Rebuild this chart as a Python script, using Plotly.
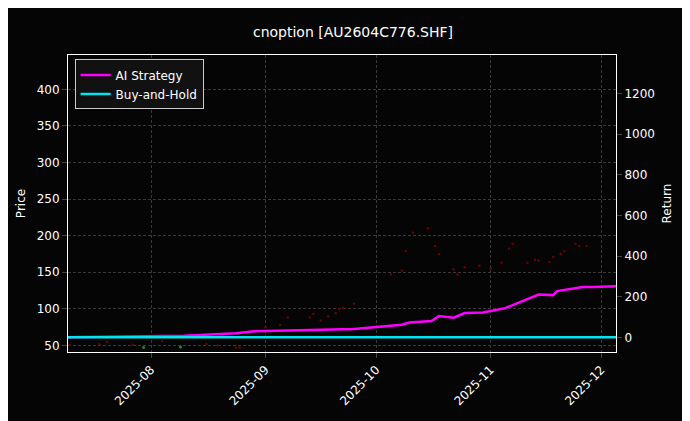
import plotly.graph_objects as go

# strategy equity (return, %)
ret_dates = ["2025-07-09", "2025-08-10", "2025-08-24", "2025-08-29", "2025-09-25", "2025-10-08",
             "2025-10-10", "2025-10-16", "2025-10-18", "2025-10-22", "2025-10-25", "2025-10-30",
             "2025-11-05", "2025-11-14", "2025-11-18", "2025-11-19", "2025-11-26", "2025-11-29",
             "2025-12-05"]
ai_ret = [0, 8, 20, 30, 41, 62, 73, 81, 105, 97, 120, 123, 144, 211, 208, 228, 248, 248, 252]
bh_ret = [0] * len(ret_dates)

# option price dots
px_dates = ["2025-07-10", "2025-07-18", "2025-07-20", "2025-07-27", "2025-08-04", "2025-08-16",
            "2025-08-19", "2025-08-24", "2025-08-25", "2025-09-01", "2025-09-05", "2025-09-07",
            "2025-09-13", "2025-09-14", "2025-09-16", "2025-09-18", "2025-09-20", "2025-09-21",
            "2025-09-22", "2025-09-25", "2025-10-05", "2025-10-08", "2025-10-09", "2025-10-11",
            "2025-10-15", "2025-10-17", "2025-10-18", "2025-10-22", "2025-10-23", "2025-10-25",
            "2025-10-29", "2025-11-01", "2025-11-04", "2025-11-06", "2025-11-07", "2025-11-11",
            "2025-11-13", "2025-11-14", "2025-11-17", "2025-11-18", "2025-11-20", "2025-11-21",
            "2025-11-24", "2025-11-25", "2025-11-27"]
price = [51, 52, 55, 51, 56, 52, 50, 47, 47, 75, 78, 88, 88, 93, 84, 90, 94, 100, 101, 107,
         147, 152, 179, 204, 210, 186, 175, 154, 147, 157, 159, 155, 163, 182, 189, 163, 167,
         166, 164, 171, 175, 179, 189, 186, 186]
up_dates = ["2025-07-30", "2025-08-09"]
up_price = [47, 48]

fig = go.Figure()
fig.add_trace(go.Scatter(x=px_dates, y=price, mode="markers", showlegend=False,
                         marker=dict(color="#6e0000", size=2.5), yaxis="y"))
fig.add_trace(go.Scatter(x=up_dates, y=up_price, mode="markers", showlegend=False,
                         marker=dict(color="#1f8f1f", size=3), yaxis="y"))
fig.add_trace(go.Scatter(x=ret_dates, y=ai_ret, mode="lines", name="AI Strategy",
                         line=dict(color="#ff00ff", width=2.5), yaxis="y2"))
fig.add_trace(go.Scatter(x=ret_dates, y=bh_ret, mode="lines", name="Buy-and-Hold",
                         line=dict(color="#00e5ee", width=2.5), yaxis="y2"))

grid = dict(showgrid=True, gridcolor="#3a3a3a", griddash="3px,2px", gridwidth=0.5)
fig.update_layout(
    width=690, height=421, paper_bgcolor="#050505", plot_bgcolor="#050505",
    font=dict(family="DejaVu Sans", color="white", size=12),
    title=dict(text="cnoption [AU2604C776.SHF]", x=0.5, y=0.955, font=dict(size=14)),
    margin=dict(l=60, r=82, t=47, b=77),
    xaxis=dict(type="date", range=["2025-07-09 12:00", "2025-12-05"], tickformat="%Y-%m",
               dtick="M1", tick0="2025-08-01", tickangle=-45, ticks="outside",
               automargin=False, showline=True, linecolor="white", mirror=True, **grid),
    yaxis=dict(title=dict(text="Price", font=dict(size=12), standoff=8), range=[41, 447],
               tickvals=[50, 100, 150, 200, 250, 300, 350, 400], automargin=False,
               ticks="outside", showline=True, linecolor="white", zeroline=False, **grid),
    yaxis2=dict(title=dict(text="Return", font=dict(size=12), standoff=8), overlaying="y",
                side="right", range=[-72, 1390], automargin=False,
                tickvals=[0, 200, 400, 600, 800, 1000, 1200], ticks="outside",
                showline=True, linecolor="white", zeroline=False, showgrid=False),
    legend=dict(x=0.012, y=0.985, xanchor="left", yanchor="top", bgcolor="#111",
                bordercolor="#ccc", borderwidth=1, font=dict(size=12)),
)
fig.write_html("out.html")
